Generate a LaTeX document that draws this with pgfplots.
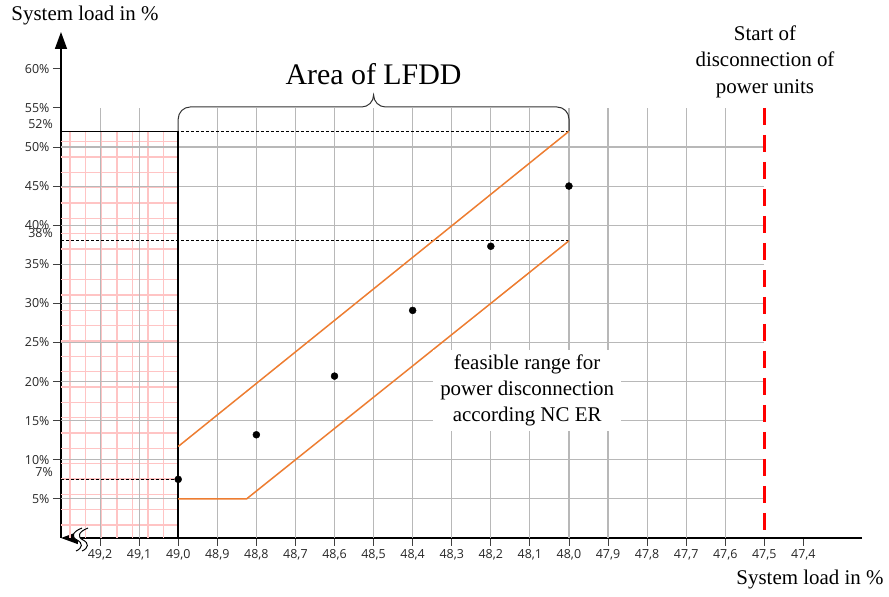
\documentclass[border=0pt]{standalone}
\usepackage{fontspec}
\setmainfont{Liberation Serif}
\newfontfamily\tickfont{Open Sans}
\usepackage{pgfplots}
\pgfplotsset{compat=1.18}
\usetikzlibrary{arrows.meta}
\definecolor{gridgray}{RGB}{184,184,184}
\definecolor{gridpink}{RGB}{255,196,196}
\definecolor{lfddorange}{RGB}{237,125,49}
\definecolor{tickgray}{RGB}{64,64,64}
\begin{document}
\begin{tikzpicture}[x=1bp,y=1bp]
\useasboundingbox (-61,-59) rectangle (828,538);
\begin{axis}[
  at={(0,0)}, anchor=south west, scale only axis,
  width=801bp, height=506bp,
  xmin=47.25, xmax=49.3, ymin=0, ymax=64.7, x dir=reverse,
  axis x line=bottom, axis y line=left,
  clip=false,
  xtick={49.2,49.1,49.0,48.9,48.8,48.7,48.6,48.5,48.4,48.3,48.2,48.1,48.0,47.9,47.8,47.7,47.6,47.5,47.4},
  xticklabels={{49,2},{49,1},{49,0},{48,9},{48,8},{48,7},{48,6},{48,5},{48,4},{48,3},{48,2},{48,1},{48,0},{47,9},{47,8},{47,7},{47,6},{47,5},{47,4}},
  ytick={5,10,15,20,25,30,35,40,45,50,55,60},
  yticklabels={5\%,10\%,15\%,20\%,25\%,30\%,35\%,40\%,45\%,50\%,55\%,60\%},
  tick align=outside, major tick length=8bp,
  tick style={tickgray, line width=0.9bp},
  ticklabel style={font=\tickfont\fontsize{12.5}{14}\selectfont, text=black!85},
  axis line style={black, line width=1.5bp},
  x axis line style={-{Triangle[length=17bp,width=12bp]}},
  y axis line style={-{Triangle[length=17bp,width=12bp]}},
]
% pink grid in the reference band
\pgfplotsinvokeforeach{49.277,49.237,49.197,49.157,49.117,49.077,49.037}{
  \draw[gridpink, line width=1.3bp] (axis cs:#1,0) -- (axis cs:#1,52);}
\pgfplotsinvokeforeach{1.66,3.62,5.58,7.54,9.5,11.46,13.42,15.38,17.34,19.3,21.26,23.22,25.18,27.14,29.1,31.06,33.02,34.98,36.94,38.9,40.86,42.82,44.78,46.74,48.7,50.66}{
  \draw[gridpink, line width=1.3bp] (axis cs:49.3,#1) -- (axis cs:49.0,#1);}
% gray grid
\pgfplotsinvokeforeach{49.2,49.1,48.9,48.8,48.7,48.6,48.5,48.4,48.3,48.2,48.1,48.0,47.9,47.8,47.7,47.6}{
  \draw[gridgray, line width=1.1bp] (axis cs:#1,0) -- (axis cs:#1,55);}
\pgfplotsinvokeforeach{5,10,15,20,25,30,35,40,45,50}{
  \draw[gridgray, line width=1.1bp] (axis cs:49.3,#1) -- (axis cs:47.5,#1);}
% black frame of the band
\draw[black, line width=1.5bp] (axis cs:49.3,52) -- (axis cs:49.0,52) -- (axis cs:49.0,0);
% dashed guides
\draw[black, line width=0.8bp, dash pattern=on 3bp off 2bp] (axis cs:49.3,52) -- (axis cs:48.0,52);
\draw[black, line width=0.8bp, dash pattern=on 3bp off 2bp] (axis cs:49.3,38) -- (axis cs:48.0,38);
\draw[black, line width=0.8bp, dash pattern=on 3bp off 2bp] (axis cs:49.3,7.5) -- (axis cs:49.0,7.5);
% feasible range
\addplot[lfddorange, line width=1.5bp] coordinates {(49.0,11.7) (48.0,52)};
\addplot[lfddorange, line width=1.5bp] coordinates {(49.0,5) (48.825,5) (48.0,38)};
% points
\addplot[only marks, mark=*, mark size=3.5bp, black] coordinates {(49.0,7.5) (48.8,13.2) (48.6,20.7) (48.4,29.1) (48.2,37.3) (48.0,45.0)};
% start of disconnection
\addplot[red, line width=2.4bp, dash pattern=on 17bp off 10bp] coordinates {(47.5,55) (47.5,0)};
% text in the chart
\node[fill=white, inner xsep=7bp, inner ysep=5bp, align=center, font=\fontsize{21}{26}\selectfont] at (axis cs:48.107,18.9) {feasible range for\\power disconnection\\according NC ER};
\node[font=\fontsize{30}{34}\selectfont] at (axis cs:48.5,59.3) {Area of LFDD};
\end{axis}
% brace
\draw[black!80, line width=1bp] (117.2,407) -- (117.2,419) arc[start angle=180,end angle=90,radius=12] -- (300.6,431) arc[start angle=-90,end angle=0,radius=12] arc[start angle=180,end angle=270,radius=12] -- (496,431) arc[start angle=90,end angle=0,radius=12] -- (508,407);
% axis break
\fill[white] (21,10) .. controls (11,6) and (10,1) .. (16,-2) .. controls (22,-5) and (22,-10) .. (15,-13) -- (21,-13) .. controls (28,-10) and (28,-5) .. (22,-2) .. controls (16,1) and (17,6) .. (27,10) -- cycle;
\draw[black, line width=1bp] (21,10) .. controls (11,6) and (10,1) .. (16,-2) .. controls (22,-5) and (22,-10) .. (15,-13);
\draw[black, line width=1bp] (27,10) .. controls (17,6) and (16,1) .. (22,-2) .. controls (28,-5) and (28,-10) .. (21,-13);
% extra value labels
\node[anchor=east, inner sep=0pt, font=\tickfont\fontsize{12.5}{14}\selectfont, text=black!85] at (-8,414) {52\%};
\node[anchor=east, inner sep=0pt, font=\tickfont\fontsize{12.5}{14}\selectfont, text=black!85] at (-8,305) {38\%};
\node[anchor=east, inner sep=0pt, font=\tickfont\fontsize{12.5}{14}\selectfont, text=black!85] at (-8,66) {7\%};
% axis titles
\node[font=\fontsize{21}{25}\selectfont] at (24,522) {System load in \%};
\node[font=\fontsize{21}{25}\selectfont] at (749,-42) {System load in \%};
\node[align=center, font=\fontsize{21}{26.5}\selectfont] at (704,476.5) {Start of\\disconnection of\\power units};
\end{tikzpicture}
\end{document}
